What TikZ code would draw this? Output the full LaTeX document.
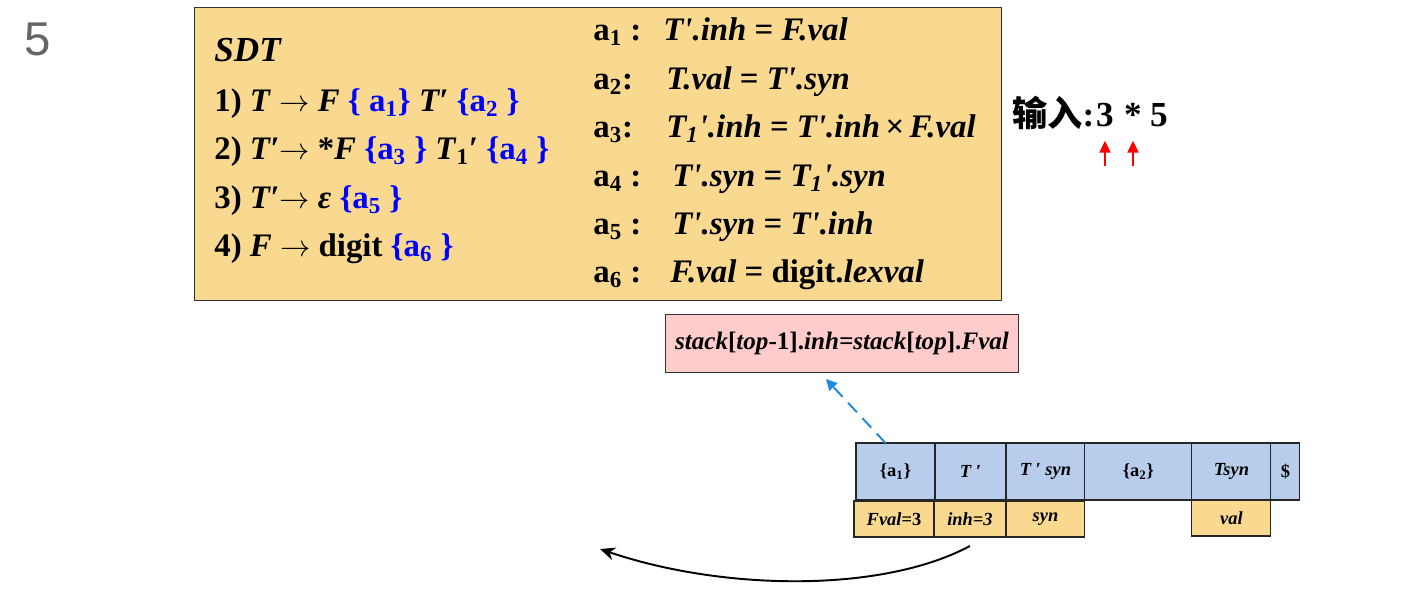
\documentclass[tikz,border=0pt]{standalone}
\usepackage{fontspec}
\setmainfont{Liberation Serif}
\newfontfamily\cjk{Noto Sans CJK SC}
\newfontfamily\pagefont{Liberation Sans}
\usetikzlibrary{arrows.meta,positioning,calc}
\definecolor{sdtfill}{HTML}{F8D98F}
\definecolor{stkblue}{HTML}{B7CDEB}
\definecolor{actpink}{HTML}{FFCCCC}
\definecolor{dashblue}{HTML}{1E88E5}
\definecolor{actblue}{HTML}{0000FF}
\newcommand{\blu}[1]{\textcolor{actblue}{#1}}
\newcommand{\lo}[1]{\textsubscript{#1}}
\newcommand{\arw}{$\rightarrow$}
\tikzset{
  stk/.style={rectangle, draw=black!85, line width=0.6pt, fill=stkblue, minimum height=1.14cm,
              inner sep=0pt, outer sep=0pt, font=\fontsize{10.5}{12}\selectfont\bfseries},
  attr/.style={rectangle, draw=black!85, line width=0.6pt, fill=sdtfill, minimum height=0.72cm,
               inner sep=0pt, outer sep=0pt, font=\fontsize{10.5}{12}\selectfont\bfseries},
  ln/.style={anchor=base west, inner sep=0pt, font=\fontsize{18.7}{22}\selectfont\bfseries},
  rn/.style={anchor=base west, inner sep=0pt, font=\fontsize{18.7}{22}\selectfont\bfseries},
  inp/.style={anchor=base, inner sep=0pt, font=\fontsize{20}{24}\selectfont\bfseries},
  dasharr/.style={-{Triangle[length=2.2mm,width=2.2mm]}, line width=1.1pt, draw=dashblue,
                  dash pattern=on 2.6mm off 1.6mm},
  inarr/.style={-{Triangle[length=2.4mm,width=2.2mm]}, line width=1.1pt, draw=red},
  backarr/.style={-{Stealth[length=3mm,width=2.6mm]}, line width=1.1pt},
}

\begin{document}
\begin{tikzpicture}[x=0.02cm, y=-0.02cm]
  \useasboundingbox (0,0) rectangle (1404,594);
  \node[font=\pagefont\fontsize{27}{30}\selectfont, text=black!60, anchor=base west, inner sep=0pt] (pg) at (24,56) {5};

  % SDT box
  \node[rectangle, draw=black!80, line width=0.7pt, fill=sdtfill, anchor=north west,
        minimum width=16.14cm, minimum height=5.86cm] (sdt) at (194,7) {};
  \node[ln, font=\fontsize{20}{22}\selectfont\bfseries] (t0) at (214,62) {\textit{SDT}};
  \node[ln] (t1) at (214,112) {1) \textit{T} \arw{} \textit{F} \blu{\{ a\lo{1}\}} \textit{T′} \blu{\{a\lo{2} \}}};
  \node[ln] (t2) at (214,160) {2) \textit{T′}\arw{} *\textit{F} \blu{\{a\lo{3} \}} \textit{T}\lo{1}′ \blu{\{a\lo{4} \}}};
  \node[ln] (t3) at (214,209) {3) \textit{T′}\arw{} \textit{ε} \blu{\{a\lo{5} \}}};
  \node[ln] (t4) at (214,257) {4) \textit{F} \arw{} digit \blu{\{a\lo{6} \}}};

  \node[rn] (r1) at (593,41) {a\lo{1} :};
  \node[rn] (r2) at (593,90) {a\lo{2}:};
  \node[rn] (r3) at (593,138) {a\lo{3}:};
  \node[rn] (r4) at (593,187) {a\lo{4} :};
  \node[rn] (r5) at (593,235) {a\lo{5} :};
  \node[rn] (r6) at (593,283) {a\lo{6} :};
  \node[rn] (e1) at (663,41) {\textit{T\textquotesingle.inh} = \textit{F.val}};
  \node[rn] (e2) at (666,90) {\textit{T.val} = \textit{T\textquotesingle.syn}};
  \node[rn] (e3) at (666,138) {\textit{T\lo{1}\textquotesingle.inh} = \textit{T\textquotesingle.inh}\,×\,\textit{F.val}};
  \node[rn] (e4) at (672,187) {\textit{T\textquotesingle.syn} = \textit{T\lo{1}\textquotesingle.syn}};
  \node[rn] (e5) at (672,235) {\textit{T\textquotesingle.syn} = \textit{T\textquotesingle.inh}};
  \node[rn] (e6) at (670,283) {\textit{F.val} = digit.\textit{lexval}};

  % input
  \node[anchor=base west, inner sep=0pt, font=\fontsize{20}{24}\selectfont\bfseries] (inlab) at (1012,127) {{\cjk 输入}:};
  \node[inp] (d3) at (1105,127) {3};
  \node[inp] (star) at (1133,127) {*};
  \node[inp] (d5) at (1159,127) {5};
  \coordinate (p3) at (1105,166);
  \coordinate (pstar) at (1133,166);
  \draw[inarr] (p3) -- ([yshift=-0.26cm]d3.south);
  \draw[inarr] (pstar) -- ([yshift=-0.26cm]d3.south -| pstar);

  % action
  \node[rectangle, draw=black!80, line width=0.6pt, fill=actpink, anchor=north west,
        minimum width=7.06cm, minimum height=1.16cm, inner sep=0pt,
        font=\fontsize{14.3}{16}\selectfont\bfseries] (act) at (665,314)
        {\textit{stack}[\textit{top}-1].\textit{inh=stack}[\textit{top}].\textit{Fval}};

  % stack
  \node[stk, minimum width=1.58cm, anchor=north west] (a1c) at (856,443) {\{a\lo{1}\}};
  \node[stk, minimum width=1.42cm, right=0pt of a1c] (tp) {\textit{T ′}};
  \node[stk, minimum width=1.58cm, right=0pt of tp] (tps) {\textit{T ′ syn}};
  \node[stk, minimum width=2.14cm, right=0pt of tps] (a2c) {\{a\lo{2}\}};
  \node[stk, minimum width=1.58cm, right=0pt of a2c] (ts) {\textit{Tsyn}};
  \node[stk, minimum width=0.58cm, right=0pt of ts] (dol) {\$};
  \node[attr, minimum width=1.6cm, anchor=north west] (fv) at (854,501) {\textit{Fval}=3};
  \node[attr, minimum width=1.44cm, right=0pt of fv] (ih) {\textit{inh=3}};
  \node[attr, minimum width=1.58cm, right=0pt of ih] (sy) {\textit{syn}};
  \node[attr, minimum width=1.58cm, below=0pt of ts] (vl) {\textit{val}};

  \draw[dasharr] ([xshift=-0.2cm]a1c.north) -- ([xshift=-0.32cm,yshift=-0.12cm]act.south);
  \coordinate (bk) at (600,549);
  \draw[backarr] ([yshift=-0.18cm]ih.south) .. controls (880,594) and (720,590) .. (bk);
\end{tikzpicture}
\end{document}
